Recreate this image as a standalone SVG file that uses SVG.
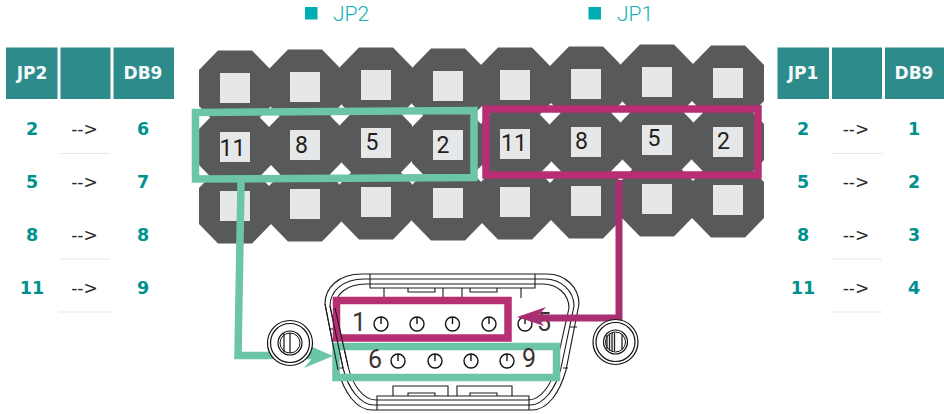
<svg xmlns="http://www.w3.org/2000/svg" width="944" height="414" viewBox="0 0 944 414">
<style>
text{font-family:"DejaVu Sans",sans-serif}
.hd{fill:#2e8b8b}
.ht{font-weight:700;font-size:17px;fill:#f4fafa;text-anchor:middle}
.num{font-weight:700;font-size:17.5px;fill:#00918f;text-anchor:middle}
.arr{font-size:17px;fill:#2a2a2a;text-anchor:middle}
.sep{stroke:#e8e8e8;stroke-width:1.2;fill:none}
.leg{font-family:Roboto,sans-serif;font-weight:300;font-size:21px;fill:#10b0b4}
.lsq{fill:#00aeb2}
.pn{font-family:Roboto,sans-serif;font-size:23px;fill:#231f20;text-anchor:middle}
.db{font-family:Roboto,sans-serif;font-size:25px;fill:#3c3232;text-anchor:middle}
.ol{fill:none;stroke:#1a1a1a;stroke-width:1.1}
.gb{fill:none;stroke:#6cc5a6;stroke-width:7.5}
.mb{fill:none;stroke:#b72e73;stroke-width:7.5}
</style>
<defs>
<g id="pin"><polygon points="-17,-37.5 17,-37.5 36,-18 36,18 17,37.5 -17,37.5 -36,18 -36,-18" fill="#58595b"/><rect x="-15" y="-15" width="30" height="30" fill="#e6e7e8"/></g>
<g id="hole"><circle r="7" fill="#fff" stroke="#111" stroke-width="1.4"/><path d="M0,-7V0" stroke="#111" stroke-width="1.4"/></g>
<g id="screw"><circle r="22.5" fill="#fff" stroke="#111" stroke-width="1.2"/><circle r="19.5" fill="none" stroke="#111" stroke-width="1.2"/><circle r="12" fill="none" stroke="#111" stroke-width="1.2"/><circle r="10" fill="none" stroke="#111" stroke-width="1"/></g>
</defs>
<rect width="944" height="414" fill="#fff"/>

<g id="legend-jp2"><rect class="lsq" x="305" y="7" width="12.5" height="12.5"/><text class="leg" x="333" y="21">JP2</text></g>
<g id="legend-jp1"><rect class="lsq" x="588.5" y="7" width="12.5" height="12.5"/><text class="leg" x="617" y="21">JP1</text></g>

<g id="table-jp2">
<rect class="hd" x="6" y="47.5" width="51.5" height="51.5"/><rect class="hd" x="60.5" y="47.5" width="50" height="51.5"/><rect class="hd" x="113.5" y="47.5" width="60.5" height="51.5"/>
<text class="ht" x="32" y="79">JP2</text><text class="ht" x="143" y="79">DB9</text>
<text class="num" x="32" y="135">2</text><text class="arr" x="84.5" y="135">--&gt;</text><text class="num" x="143" y="135">6</text>
<text class="num" x="32" y="188">5</text><text class="arr" x="84.5" y="188">--&gt;</text><text class="num" x="143" y="188">7</text>
<text class="num" x="32" y="241">8</text><text class="arr" x="84.5" y="241">--&gt;</text><text class="num" x="143" y="241">8</text>
<text class="num" x="32" y="294">11</text><text class="arr" x="84.5" y="294">--&gt;</text><text class="num" x="143" y="294">9</text>
<path class="sep" d="M60.5,153.5H110M60.5,259H110M59,312H112"/>
</g>

<g id="table-jp1">
<rect class="hd" x="777.5" y="47.5" width="51.5" height="51.5"/><rect class="hd" x="832" y="47.5" width="50" height="51.5"/><rect class="hd" x="885" y="47.5" width="59" height="51.5"/>
<text class="ht" x="803" y="79">JP1</text><text class="ht" x="914" y="79">DB9</text>
<text class="num" x="803" y="135">2</text><text class="arr" x="856" y="135">--&gt;</text><text class="num" x="914" y="135">1</text>
<text class="num" x="803" y="188">5</text><text class="arr" x="856" y="188">--&gt;</text><text class="num" x="914" y="188">2</text>
<text class="num" x="803" y="241">8</text><text class="arr" x="856" y="241">--&gt;</text><text class="num" x="914" y="241">3</text>
<text class="num" x="803" y="294">11</text><text class="arr" x="856" y="294">--&gt;</text><text class="num" x="914" y="294">4</text>
<path class="sep" d="M832,153.5H882M832,259H882M831,312H883"/>
</g>

<g id="header-pins">
<use href="#pin" x="235" y="88"/><use href="#pin" x="305" y="87"/><use href="#pin" x="376" y="85"/><use href="#pin" x="448" y="86"/><use href="#pin" x="515" y="85"/><use href="#pin" x="586" y="84"/><use href="#pin" x="657" y="82"/><use href="#pin" x="728" y="83"/>
<use href="#pin" x="235" y="206"/><use href="#pin" x="305" y="204"/><use href="#pin" x="376" y="202"/><use href="#pin" x="448" y="203"/><use href="#pin" x="515" y="202"/><use href="#pin" x="586" y="201"/><use href="#pin" x="657" y="199"/><use href="#pin" x="728" y="200"/>
<use href="#pin" x="235" y="147"/><use href="#pin" x="305" y="145"/><use href="#pin" x="376" y="143"/><use href="#pin" x="448" y="145"/><use href="#pin" x="515" y="144"/><use href="#pin" x="586" y="142"/><use href="#pin" x="657" y="140"/><use href="#pin" x="728" y="142"/>
<text class="pn" x="232.5" y="156">11</text><text class="pn" x="301.5" y="152.5">8</text><text class="pn" x="372" y="150">5</text><text class="pn" x="443" y="153">2</text>
<text class="pn" x="514" y="151">11</text><text class="pn" x="581.5" y="149">8</text><text class="pn" x="654" y="146">5</text><text class="pn" x="723.5" y="149">2</text>
</g>

<g id="db9-connector">
<path class="ol" style="fill:#fff" d="M362,274H547C566,274 579,288 579,304L566,370C560,392 548,410 532,410H372C356,410 344,392 338,370L325,304C325,288 338,274 362,274Z"/>
<path class="ol" d="M364,279H545C561,279 574,291 574,306L561,368C556,388 544,405 530,405H374C360,405 348,388 343,368L330,306C330,291 343,279 364,279Z"/>
<path class="ol" d="M366,284H543C557,284 569,294 569,308L556,366C552,384 541,400 528,400H376C363,400 352,384 348,366L335,308C335,294 347,284 366,284Z"/>
<path class="ol" d="M370,274V288H535V274M377,410V396H529V410M384,288V298M443,288V298M462,288V298M521,288V298M393,396V386H448V396M457,396V386H512V396M408,288V292H435V288M470,288V292H497V288M408,396V393H435V396M470,396V393H497V396M330,329H337M338,368H343M570,327H577M563,368H568"/>
<g id="db9-jp1-box"><rect class="mb" x="336.500" y="300.500" width="171.500" height="37.500"/></g>
<g id="db9-jp2-box"><rect class="gb" x="336" y="346.500" width="220.500" height="31"/></g>
<path class="ol" d="M330,306L343,368M335,308L348,366M325,304L338,370"/>
<use href="#hole" x="381" y="324"/><use href="#hole" x="417" y="324"/><use href="#hole" x="452.500" y="324"/><use href="#hole" x="489" y="324"/><use href="#hole" x="525" y="324"/>
<use href="#hole" x="398" y="361"/><use href="#hole" x="435" y="361"/><use href="#hole" x="471" y="361"/><use href="#hole" x="507" y="361"/>
<text class="db" x="359" y="331">1</text><text class="db" x="544" y="331">5</text><text class="db" x="375" y="368">6</text><text class="db" x="529" y="367">9</text>
</g>

<g id="connectors">
<polygon id="jp2-box" class="gb" points="195.500,112.500 474,110.500 474,177.500 195.500,179"/>
<polygon id="jp1-box" class="mb" points="486,109 758,109 758,175 486,175"/>
<path d="M241,182L238,355.500H320" fill="none" stroke="#6cc5a6" stroke-width="7.500"/>
<polygon points="333,356 310,346 314,356 304,368" fill="#6cc5a6"/>
<path d="M619,180V318H530" fill="none" stroke="#a93070" stroke-width="7"/>
<polygon points="517,317 546,307 537,317 544,326" fill="#a93070"/>
</g>

<g id="screw-left"><use href="#screw" x="290" y="343"/><path d="M284,333.500V352.500M290,333V353" stroke="#111" stroke-width="1.200"/></g>
<g id="screw-right"><use href="#screw" x="615.500" y="342"/><path d="M607,335V349M609.500,333.500V350.500M612,333V351M614.500,333V351M622,334V350" fill="none" stroke="#222" stroke-width="1.300"/></g>
</svg>
